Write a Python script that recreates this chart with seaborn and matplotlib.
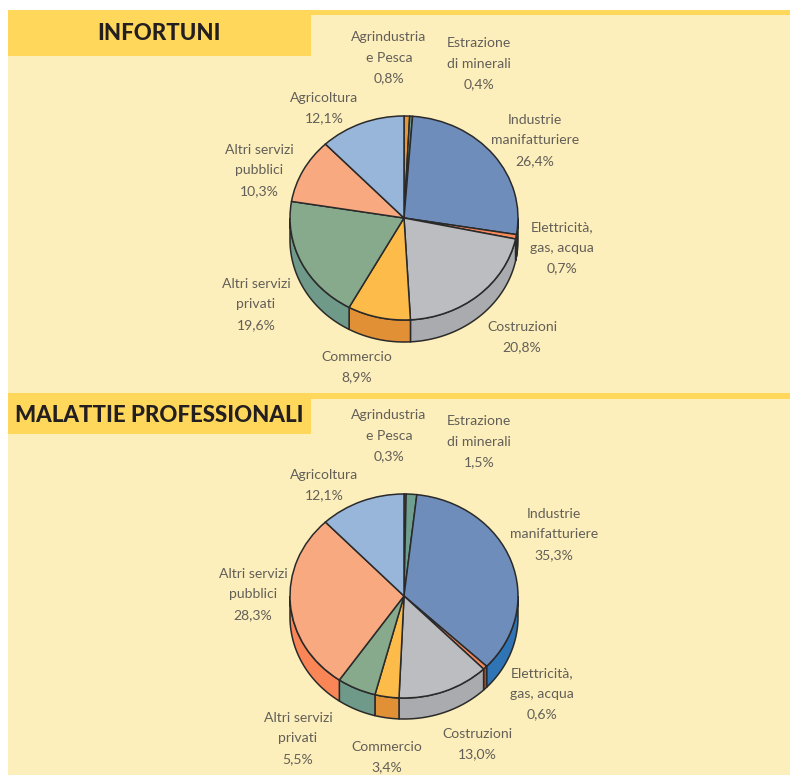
import numpy as np
import matplotlib
matplotlib.use('Agg')
import matplotlib.pyplot as plt
import seaborn as sns

# shares
sectors = ['Agrindustria\ne Pesca', 'Estrazione\ndi minerali', 'Industrie\nmanifatturiere',
           'Elettricità,\ngas, acqua', 'Costruzioni', 'Commercio', 'Altri servizi\nprivati',
           'Altri servizi\npubblici', 'Agricoltura']
infortuni = [0.8, 0.4, 26.4, 0.7, 20.8, 8.9, 19.6, 10.3, 12.1]
malattie = [0.3, 1.5, 35.3, 0.6, 13.0, 3.4, 5.5, 28.3, 12.1]

top_colors = sns.color_palette(['#E8963A', '#6F9F8E', '#6E8DBB', '#F98A5C', '#BBBDC1',
                                '#FDBB4A', '#87A98C', '#F8A97F', '#98B6DA'])
side_colors = sns.color_palette(['#E29035', '#6F9A8A', '#2F74B5', '#C8502A', '#A9ABAE',
                                 '#E29035', '#6F9A8A', '#FA8557', '#7F9FC4'])

# label centres and first line top, pixels from the top left corner
pos_inf = [(389, 31), (479, 37), (535, 114), (562, 221), (522, 321), (357, 351), (256, 278), (259, 144), (324, 92)]
pos_mal = [(389, 409), (479, 415), (554, 508), (542, 667), (477, 728), (387, 741), (298, 712), (253, 568), (324, 469)]

W, H = 790, 775
LINE = '#2a2a2a'
TEXT = '#625f59'
PANEL = '#FDEFBB'
YELLOW = '#FFD75A'

sns.set_theme(style='white')
plt.rcParams['font.family'] = ['Lato', 'DejaVu Sans']

fig = plt.figure(figsize=(W / 100, H / 100), dpi=100, facecolor='white')
bg = fig.add_axes([0, 0, 1, 1])
bg.set_xlim(0, W)
bg.set_ylim(H, 0)
bg.axis('off')


def panel(y0, y1, band, head_bottom, title, title_x, title_y, size):
    bg.fill_between([8, W], y0, y1, color=PANEL, lw=0)
    bg.fill_between([8, W], y0, y0 + band, color=YELLOW, lw=0)
    bg.fill_between([8, 311], y0, head_bottom, color=YELLOW, lw=0)
    bg.text(title_x, title_y, title, ha='center', va='center', fontsize=size,
            fontweight='black', color='#231f20')


def pie3d(values, cx, cy, rx, ry, depth, labels_at):
    ax = fig.add_axes([(cx - rx) / W, 1 - (cy + ry) / H, 2 * rx / W, 2 * ry / H])
    ax.patch.set_alpha(0)
    wedges, _ = ax.pie(values, colors=top_colors, startangle=90, counterclock=False, radius=1,
                       wedgeprops={'edgecolor': LINE, 'linewidth': 1.1, 'zorder': 3})
    ax.set_aspect('auto')
    ax.set_xlim(-1, 1)
    ax.set_ylim(-1, 1)
    d = 2 * depth / (2 * ry)
    for w, c in zip(wedges, side_colors):
        lo = max(w.theta1, -180)
        hi = min(w.theta2, 0)
        if lo >= hi:
            continue
        t = np.radians(np.linspace(lo, hi, 60))
        xs = np.r_[np.cos(t), np.cos(t[::-1])]
        ys = np.r_[np.sin(t), np.sin(t[::-1]) - d]
        ax.fill(xs, ys, facecolor=c, edgecolor=LINE, linewidth=1.1, zorder=2, clip_on=False)
    for w in wedges:
        w.set_clip_on(False)
    for name, v, (x, y) in zip(sectors, values, labels_at):
        label = name + '\n' + f'{v:.1f}'.replace('.', ',') + '%'
        bg.text(x, y, label, ha='center', va='top', fontsize=10.1, fontweight='normal',
                color=TEXT, linespacing=1.85)


panel(10, 393, 5, 56, 'INFORTUNI', 159, 33, 16)
panel(393, 775, 6, 434, 'MALATTIE PROFESSIONALI', 159, 415, 16)
pie3d(infortuni, 404, 218, 114, 102, 22, pos_inf)
pie3d(malattie, 404, 596, 114, 102, 21, pos_mal)

fig.savefig('out.png', dpi=100)
